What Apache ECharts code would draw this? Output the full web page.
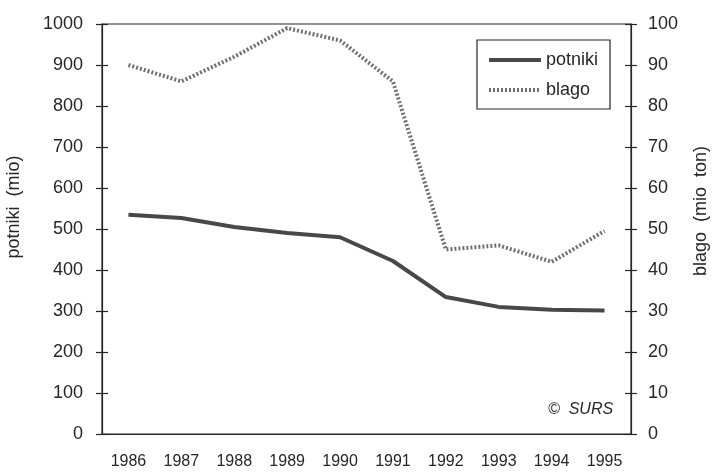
<!DOCTYPE html>
<html>
<head>
<meta charset="utf-8">
<script src="https://cdn.jsdelivr.net/npm/echarts@6/dist/echarts.min.js"></script>
<style>
  html, body { margin: 0; padding: 0; background: #fff; }
  #chart { width: 714px; height: 472px; }
</style>
</head>
<body>
<div id="chart"></div>
<script>
// leta
var years = ['1986', '1987', '1988', '1989', '1990', '1991', '1992', '1993', '1994', '1995'];
// potniki (mio) - leva os
var potniki = [535, 527, 505, 490, 480, 422, 334, 310, 303, 301];
// blago (mio ton) - desna os
var blago = [90, 86, 92, 99, 96, 86, 45, 46, 42, 49.5];

var leftTicks = { min: 0, max: 1000, interval: 100 };
var rightTicks = { min: 0, max: 100, interval: 10 };

var chart = echarts.init(document.getElementById('chart'));
var font = 'Liberation Sans, Arial, sans-serif';
var ink = '#262626';

// os brez napisov, samo notranje oznake (da so oznake "+" na obeh straneh)
function innerY(pos, t) {
  return {
    type: 'value', position: pos, min: t.min, max: t.max, interval: t.interval,
    axisLine: { show: false }, splitLine: { show: false }, axisLabel: { show: false },
    axisTick: { show: true, inside: true, length: 6, lineStyle: { color: ink, width: 1.2 } }
  };
}

chart.setOption({
  animation: false,
  backgroundColor: '#fff',
  grid: { left: 102, right: 83, top: 24, bottom: 38, show: true, borderColor: ink, borderWidth: 1.2 },
  legend: {
    orient: 'vertical', left: 477, top: 40,
    borderColor: ink, borderWidth: 1.2, padding: [11, 12, 10, 10],
    itemWidth: 52, itemHeight: 14, itemGap: 12,
    itemStyle: { opacity: 0 },
    lineStyle: { width: 4 },
    textStyle: { fontFamily: font, fontSize: 18, color: ink },
    data: ['potniki', 'blago']
  },
  xAxis: [{
    type: 'category', data: years, boundaryGap: true,
    axisLine: { lineStyle: { color: ink, width: 1.2 } },
    axisTick: { length: 6, lineStyle: { color: ink, width: 1.2 } },
    axisLabel: { fontFamily: font, fontSize: 16, color: ink, margin: 20 },
    splitLine: { show: false }
  }, {
    type: 'category', data: years, boundaryGap: true, position: 'bottom',
    axisLine: { show: false }, axisLabel: { show: false },
    axisTick: { inside: true, length: 6, lineStyle: { color: ink, width: 1.2 } }
  }],
  yAxis: [{
    type: 'value', position: 'left', min: leftTicks.min, max: leftTicks.max, interval: leftTicks.interval,
    axisLine: { show: true, lineStyle: { color: ink, width: 1.2 } },
    axisTick: { show: true, length: 6, lineStyle: { color: ink, width: 1.2 } },
    axisLabel: { fontFamily: font, fontSize: 18, color: ink, margin: 19, formatter: function (v) { return String(v); } },
    splitLine: { show: false }
  }, {
    type: 'value', position: 'right', min: rightTicks.min, max: rightTicks.max, interval: rightTicks.interval,
    axisLine: { show: true, lineStyle: { color: ink, width: 1.2 } },
    axisTick: { show: true, length: 6, lineStyle: { color: ink, width: 1.2 } },
    axisLabel: { fontFamily: font, fontSize: 18, color: ink, margin: 17 },
    splitLine: { show: false }
  }, innerY('left', leftTicks), innerY('right', rightTicks)],
  graphic: [{
    type: 'text', x: 14, y: 207, rotation: Math.PI / 2,
    style: { text: 'potniki  (mio)', font: '18px ' + font, fill: ink, align: 'center', verticalAlign: 'middle' }
  }, {
    type: 'text', x: 701, y: 211, rotation: Math.PI / 2,
    style: { text: 'blago  (mio  ton)', font: '18px ' + font, fill: ink, align: 'center', verticalAlign: 'middle' }
  }, {
    type: 'text', left: 548, top: 402,
    style: { text: '©  SURS', font: 'italic 16px ' + font, fill: ink }
  }],
  series: [{
    name: 'potniki', type: 'line', data: potniki, yAxisIndex: 0,
    symbol: 'none',
    lineStyle: { color: '#484848', width: 4 },
    itemStyle: { color: '#484848' }
  }, {
    name: 'blago', type: 'line', data: blago, yAxisIndex: 1,
    symbol: 'none',
    lineStyle: { color: '#707070', width: 4, type: [2, 2] },
    itemStyle: { color: '#707070' }
  }]
});
</script>
</body>
</html>
